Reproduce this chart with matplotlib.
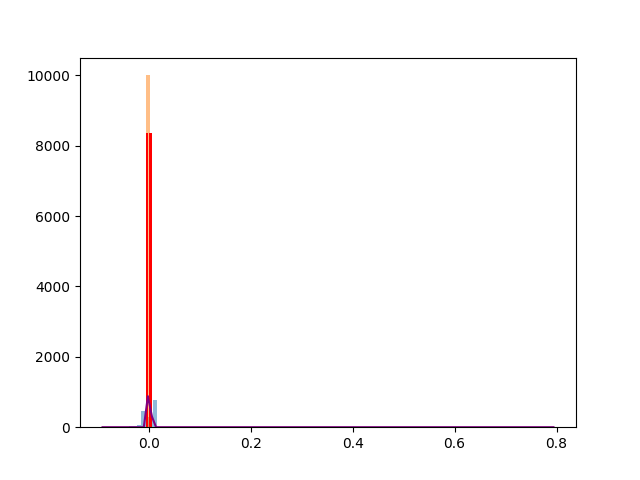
import numpy as np
import matplotlib
matplotlib.use("Agg")
import matplotlib.pyplot as plt

# blue histogram (bin edges / counts)
blue_edges = [-0.040, -0.032, -0.024, -0.016, -0.008, 0.000, 0.008, 0.016]
blue_counts = [20, 40, 60, 450, 300, 300, 760]

# orange histogram
orange_edges = [-0.006, 0.003]
orange_counts = [10000]

# red histogram
red_edges = [-0.005, -0.0015, 0.0, 0.007]
red_counts = [8350, 0, 8350]

# purple line
purple_x = [-0.091, -0.03, -0.010, -0.002, 0.006, 0.014, 0.794]
purple_y = [0, 0, 0, 880, 300, 0, 0]

fig, ax = plt.subplots(figsize=(6.4, 4.8), dpi=100)

ax.hist(blue_edges[:-1], bins=blue_edges, weights=blue_counts, alpha=0.5)
ax.hist(orange_edges[:-1], bins=orange_edges, weights=orange_counts, alpha=0.5)
ax.hist(red_edges[:-1], bins=red_edges, weights=red_counts, color="red")
ax.plot(purple_x, purple_y, color="purple")

fig.savefig("out.png")
